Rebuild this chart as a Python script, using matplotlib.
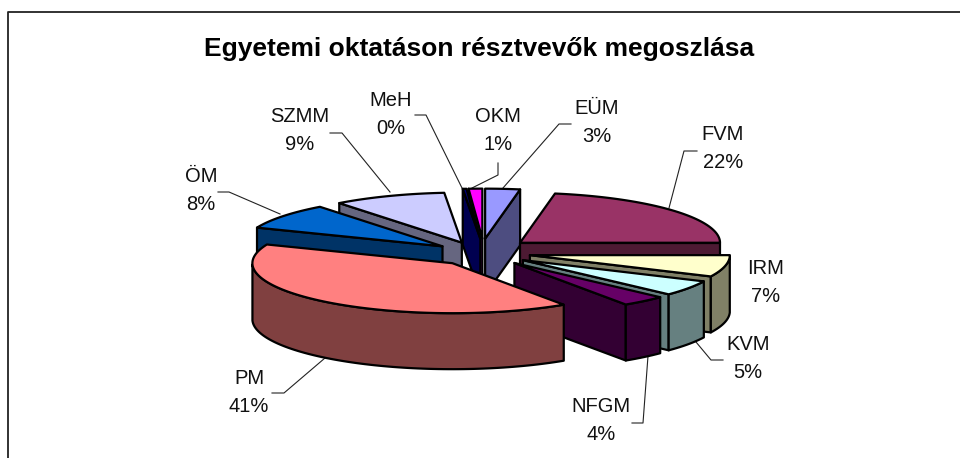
import numpy as np
import matplotlib
matplotlib.use('Agg')
import matplotlib.pyplot as plt
from matplotlib.patches import Polygon

plt.rcParams['font.family'] = ['Liberation Sans', 'DejaVu Sans']

names = ['EÜM', 'FVM', 'IRM', 'KVM', 'NFGM', 'PM', 'ÖM', 'SZMM', 'MeH', 'OKM']
values = [2.8, 22.2, 7, 5, 3.6, 40.5, 8.4, 9.1, 0.3, 1.1]
pct_labels = ['3%', '22%', '7%', '5%', '4%', '41%', '8%', '9%', '0%', '1%']
top_colors = ['#9999FF', '#993366', '#FFFFCC', '#CCFFFF', '#660066',
              '#FF8080', '#0066CC', '#CCCCFF', '#000080', '#FF00FF']
side_colors = ['#4D4D80', '#4D1A33', '#808066', '#668080', '#330033',
               '#804040', '#003366', '#666680', '#000050', '#800080']

# pie geometry in pixels
cx, cy = 484, 252
rx, ry = 200, 50
ex, ey = 47, 14.4
thick = 56
# small shifts of the exploded slices, the original is not quite symmetric
nudge = [(-3, 1), (0, 0), (0, 0), (0, 0), (0, 0), (-2, 0), (-4, 3), (-5, 4), (0, 1), (0, 1)]

label_xy = [(597, 122), (723, 149), (766, 282), (748, 359), (601, 421),
            (249, 392), (201, 191), (300, 131), (391, 114), (498, 130)]
leaders = [[(571, 124), (559, 124), (503, 188)],
           [(697, 151), (684, 151), (669, 208)],
           [],
           [(723, 360), (711, 360), (696, 342)],
           [(632, 423), (643, 423), (648, 356)],
           [(272, 393), (284, 393), (325, 358)],
           [(218, 192), (229, 192), (280, 214)],
           [(330, 133), (342, 133), (390, 192)],
           [(415, 115), (426, 115), (462, 188)],
           [(498, 163), (498, 175), (472, 188)]]

fig = plt.figure(figsize=(9.6, 4.58), dpi=100)
ax = fig.add_axes([0, 0, 1, 1])
ax.set_xlim(0, 960)
ax.set_ylim(458, 0)
ax.axis('off')

# chart frame, only top and left are in the crop
ax.plot([8, 8, 960], [458, 12, 12], color='#222222', lw=1.3, solid_capstyle='butt')

ax.text(479.5, 49, 'Egyetemi oktatáson résztvevők megoszlása', fontsize=19,
        fontweight='bold', ha='center', va='center')

fracs = np.array(values) / sum(values)
ends = np.cumsum(fracs) * 2 * np.pi
starts = ends - fracs * 2 * np.pi
mids = (starts + ends) / 2


def rim(ax0, ay0, a1, a2):
    t = np.linspace(a1, a2, max(int(abs(a2 - a1) * 40), 2))
    return np.column_stack([ax0 + rx * np.sin(t), ay0 - ry * np.cos(t)])


# back to front, MeH after OKM so that its dark side shows
order = sorted(range(len(values)), key=lambda i: (-np.cos(mids[i]), i == 8))
z = 2
for i in order:
    a1, a2 = starts[i], ends[i]
    px = cx + ex * np.sin(mids[i]) + nudge[i][0]
    py = cy - ey * np.cos(mids[i]) + nudge[i][1]
    arc = rim(px, py, a1, a2)
    down = np.array([0, thick])
    apex = np.array([px, py])
    style = dict(edgecolor='black', lw=1.6, joinstyle='round')
    if np.sin(a1) < 0:
        ax.add_patch(Polygon([apex, arc[0], arc[0] + down, apex + down],
                             facecolor=side_colors[i], zorder=z, **style))
    if np.sin(a2) > 0:
        ax.add_patch(Polygon([apex, arc[-1], arc[-1] + down, apex + down],
                             facecolor=side_colors[i], zorder=z, **style))
    front = arc[np.cos(np.linspace(a1, a2, len(arc))) < 0]
    if len(front) > 1:
        ax.add_patch(Polygon(np.vstack([front, front[::-1] + down]),
                             facecolor=side_colors[i], zorder=z, **style))
    ax.add_patch(Polygon(np.vstack([[apex], arc]), facecolor=top_colors[i],
                         zorder=z, **style))
    z += 1

for i in range(len(names)):
    ax.text(label_xy[i][0], label_xy[i][1], names[i] + '\n' + pct_labels[i], fontsize=14.5,
            ha='center', va='center', linespacing=1.6, color='#111111')
    if leaders[i]:
        ax.plot(*zip(*leaders[i]), color='#222222', lw=0.8, zorder=1)

fig.savefig('out.png', dpi=100)
